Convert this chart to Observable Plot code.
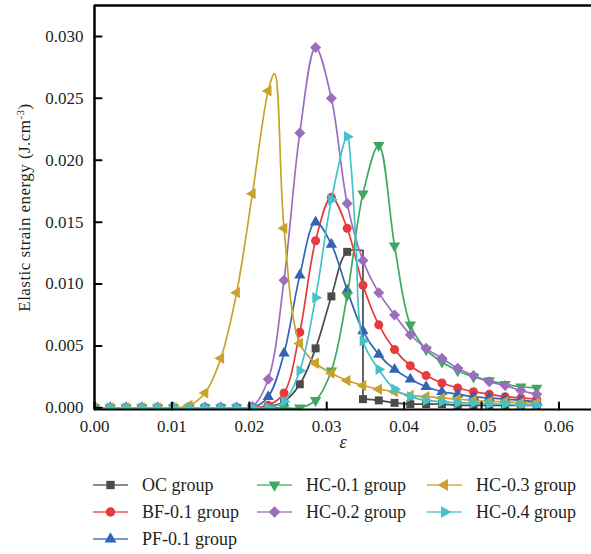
<!DOCTYPE html>
<html><head><meta charset="utf-8">
<script src="https://cdn.jsdelivr.net/npm/d3@7"></script>
<script src="https://cdn.jsdelivr.net/npm/@observablehq/plot@0.6"></script>
<style>
body{margin:0;background:#fff;}
#chart{width:591px;font-family:"Liberation Serif",serif;}
#chart svg{display:block;}
</style></head><body><div id="chart"></div>
<script>
// ---- data ----
const strain = [0, 0.00204, 0.00408, 0.00612, 0.00816, 0.0102, 0.01224, 0.01428, 0.01632, 0.01836,
  0.0204, 0.02244, 0.02448, 0.02652, 0.02856, 0.0306, 0.03264, 0.03468, 0.03672, 0.03876,
  0.0408, 0.04284, 0.04488, 0.04692, 0.04896, 0.051, 0.05304, 0.05508, 0.05712];

const ocGroup   = [0,0,0,0,0,0,0,0,0,0, 0,0.0001,0.0005,0.0019,0.0048,0.0090,0.0126,0.0007,0.0006,0.0004, 0.0003,0.0003,0.0003,0.0002,0.0002,0.0002,0.0002,0.0002,0.0002];
const bfGroup   = [0,0,0,0,0,0,0,0,0,0, 0,0.0002,0.0012,0.0061,0.0135,0.0170,0.0145,0.0099,0.0067,0.0047, 0.0034,0.0026,0.0020,0.0016,0.0013,0.0011,0.0009,0.0008,0.0007];
const pfGroup   = [0,0,0,0,0,0,0,0,0,0, 0,0.0009,0.0044,0.0107,0.0150,0.0132,0.0095,0.0062,0.0043,0.0031, 0.0023,0.0017,0.0013,0.0011,0.0009,0.0008,0.0007,0.0006,0.0005];
const hc01Group = [0,0,0,0,0,0,0,0,0,0, 0,0,0,0,0.0006,0.0030,0.0091,0.0173,0.0212,0.0131, 0.0067,0.0047,0.0037,0.0030,0.0025,0.0022,0.0019,0.0017,0.0016];
const hc02Group = [0,0,0,0,0,0,0,0,0,0, 0.0001,0.0023,0.0103,0.0222,0.0291,0.0250,0.0165,0.0119,0.0093,0.0075, 0.0059,0.0048,0.0040,0.0032,0.0026,0.0021,0.0018,0.0014,0.0011];
const hc03Group = [0,0,0,0,0,0,0.0002,0.0012,0.0040,0.0093, 0.0173,0.0256,0.0145,0.0052,0.0036,0.0028,0.0022,0.0018,0.0015,0.0013, 0.0010,0.0009,0.0008,0.0007,0.0006,0.0005,0.0005,0.0004,0.0004];
const hc04Group = [0,0,0,0,0,0,0,0,0,0, 0,0,0.0005,0.0030,0.0089,0.0168,0.0219,0.0054,0.0031,0.0015, 0.0009,0.0006,0.0005,0.0004,0.0004,0.0003,0.0003,0.0002,0.0002];

// curve-only points (no marker) seen on the lines
const ocCurveOnly   = [[0.03468, 0.0127]];   // top of the sudden drop
const hc03CurveOnly = [[0.02326, 0.0270]];
const hc04CurveOnly = [[0.03314, 0.0195], [0.03376, 0.0135]];
// index after which the OC curve drops vertically
const ocDropIndex = 17;

const seriesNames = ["OC group","BF-0.1 group","PF-0.1 group","HC-0.1 group","HC-0.2 group","HC-0.3 group","HC-0.4 group"];
const xTicks = [0, 0.01, 0.02, 0.03, 0.04, 0.05, 0.06];
const yTicks = [0, 0.005, 0.010, 0.015, 0.020, 0.025, 0.030];
const yLabel = "Elastic strain energy (J.cm-3)";
const xLabel = "ε";

// ---- styles ----
const styles = [
  {color:"#4b4b4b", symbol:"square",   rotate:0,   r:4.5},
  {color:"#e63a3c", symbol:"circle",   rotate:0,   r:4.5},
  {color:"#3263b4", symbol:"triangle", rotate:0,   r:4.2},
  {color:"#3ea862", symbol:"triangle", rotate:180, r:4.2},
  {color:"#9b6dbf", symbol:"square",   rotate:45,  r:4.4},
  {color:"#c9a22c", symbol:"triangle", rotate:-90, r:4.2},
  {color:"#45c2c8", symbol:"triangle", rotate:90,  r:4.2}
];
const seriesValues = [ocGroup, bfGroup, pfGroup, hc01Group, hc02Group, hc03Group, hc04Group];
const seriesExtras = [[], [], [], [], [], hc03CurveOnly, hc04CurveOnly];

const xDomain = [0, 0.0642];
const yDomain = [-0.000137, 0.0325];
const ink = "#231f20";

const tickShape = {draw(context, l) { context.moveTo(0, 0); context.lineTo(0, -l); }};
const lineOpts = (color) => ({x: "x", y: "y", z: "seg", stroke: color, strokeWidth: 1.7, curve: "catmull-rom", clip: true});

const marks = [];
seriesValues.forEach((vals, i) => {
  const st = styles[i];
  const pts = strain.map((x, k) => ({x, y: vals[k]}));
  let linePts;
  if (i === 0) {
    // OC: rising part up to the top of the drop, the vertical drop, then the tail
    const [tx, ty] = ocCurveOnly[0];
    const rise = [...pts.slice(0, ocDropIndex), {x: tx, y: ty}].map(p => ({...p, seg: "a"}));
    const drop = [{x: tx, y: ty}, pts[ocDropIndex]].map(p => ({...p, seg: "b"}));
    const tail = pts.slice(ocDropIndex).map(p => ({...p, seg: "c"}));
    linePts = [...rise, ...drop, ...tail];
  } else {
    linePts = [...seriesExtras[i].map(([x, y]) => ({x, y})), ...pts]
      .sort((a, b) => a.x - b.x).map(p => ({...p, seg: "a"}));
  }
  marks.push(Plot.line(linePts, lineOpts(st.color)));
  marks.push(Plot.dot(pts, {x: "x", y: "y", fill: st.color, symbol: st.symbol, rotate: st.rotate, r: st.r, clip: true}));
});

const chart = Plot.plot({
  width: 591, height: 460,
  marginLeft: 94, marginRight: 0, marginTop: 5, marginBottom: 51,
  x: {domain: xDomain},
  y: {domain: yDomain},
  style: {fontFamily: '"Liberation Serif", serif', fontSize: "17px", color: ink, background: "white"},
  marks: [
    ...marks,
    Plot.ruleY([yDomain[1]], {stroke: "#000", strokeWidth: 2.5}),
    Plot.ruleY([yDomain[0]], {stroke: "#000", strokeWidth: 2}),
    Plot.ruleX([xDomain[0]], {stroke: "#000", strokeWidth: 2.5}),
    Plot.vector(xTicks, {x: d => d, y: yDomain[0], length: 7, rotate: 0, anchor: "start", shape: tickShape, stroke: "#000", strokeWidth: 2}),
    Plot.vector(yTicks, {x: xDomain[0], y: d => d, length: 7, rotate: 90, anchor: "start", shape: tickShape, stroke: "#000", strokeWidth: 2}),
    Plot.axisX(xTicks, {tickSize: 0, tickPadding: 10, tickFormat: d3.format(".2f"), fontSize: 17, fill: ink, label: null}),
    Plot.axisY(yTicks, {tickSize: 0, tickPadding: 11, tickFormat: d3.format(".3f"), fontSize: 17, fill: ink, label: null}),
    Plot.text([yLabel], {frameAnchor: "left", dx: -70, rotate: -90, textAnchor: "middle", fontSize: 17, fill: ink}),
    Plot.text([xLabel], {frameAnchor: "bottom", dy: 38, fontSize: 18, fontStyle: "italic", fill: ink})
  ]
});

// superscript in the y label
chart.querySelectorAll("text").forEach(t => {
  if (t.textContent === yLabel) {
    t.textContent = "";
    t.setAttribute("letter-spacing", "0.45");
    const ns = "http://www.w3.org/2000/svg";
    const a = document.createElementNS(ns, "tspan"); a.textContent = "Elastic strain energy (J.cm";
    const b = document.createElementNS(ns, "tspan"); b.textContent = "-3"; b.setAttribute("baseline-shift", "super"); b.setAttribute("font-size", "11");
    const c = document.createElementNS(ns, "tspan"); c.textContent = ")";
    t.append(a, b, c);
  }
});
document.getElementById("chart").appendChild(chart);

// ---- legend ----
const legendLayout = [
  {col: 0, row: 0}, {col: 0, row: 1}, {col: 0, row: 2},
  {col: 1, row: 0}, {col: 1, row: 1},
  {col: 2, row: 0}, {col: 2, row: 1}
];
const colX = [93, 257, 427];
const rowY = [25, 52, 79];
const lg = d3.select("#chart").append("svg").attr("width", 591).attr("height", 94)
  .style("font-family", '"Liberation Serif", serif');
const symMap = {square: d3.symbolSquare, circle: d3.symbolCircle, triangle: d3.symbolTriangle};
seriesNames.forEach((name, i) => {
  const st = styles[i], L = legendLayout[i];
  const x0 = colX[L.col], y0 = rowY[L.row];
  const g = lg.append("g").attr("transform", `translate(${x0},${y0})`);
  g.append("line").attr("x1", 0).attr("x2", 35).attr("y1", 0).attr("y2", 0).attr("stroke", st.color).attr("stroke-width", 1.7).attr("opacity", 0.85);
  g.append("path").attr("d", d3.symbol(symMap[st.symbol], Math.PI * st.r * st.r * 1.1)())
    .attr("transform", `translate(17.5,0) rotate(${st.rotate})`).attr("fill", st.color);
  g.append("text").attr("x", 49).attr("y", 0).attr("dy", "0.35em").attr("font-size", 18).attr("fill", ink).text(name);
});
</script>
</body></html>
